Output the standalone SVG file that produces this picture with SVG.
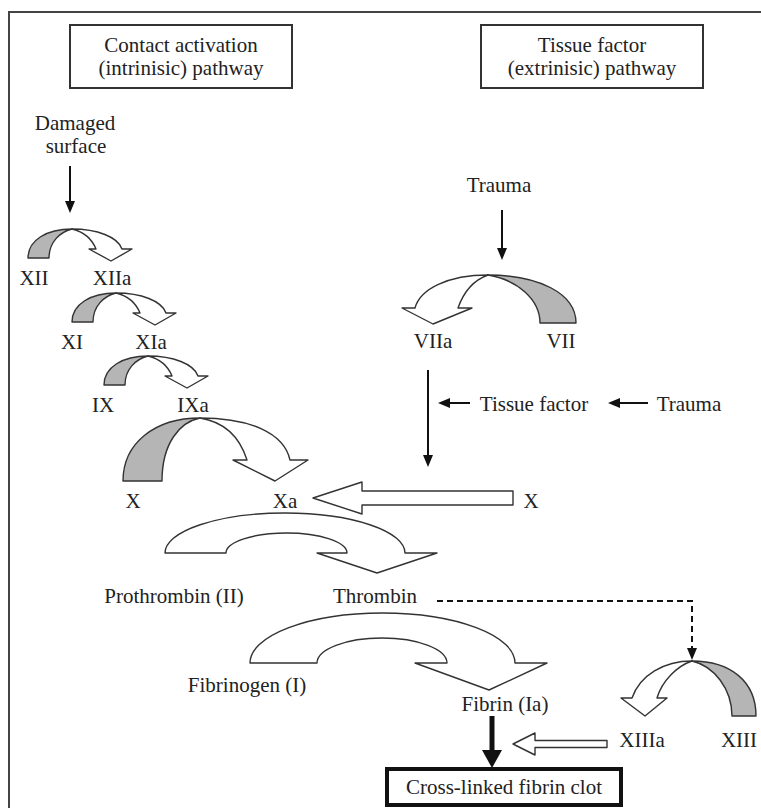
<svg xmlns="http://www.w3.org/2000/svg" width="761" height="808" viewBox="0 0 761 808">
<style>
text{font-family:"Liberation Serif","Times New Roman",serif;font-size:21px;fill:#222;text-anchor:middle}
.box{fill:#fff;stroke:#333;stroke-width:2}
.gray{fill:#b5b5b5;stroke:#333;stroke-width:1.4;stroke-linejoin:round}
.white{fill:#fff;stroke:#333;stroke-width:1.4;stroke-linejoin:round}
.ln{fill:none;stroke:#111;stroke-width:2}
</style>
<defs>
<marker id="ah" viewBox="0 0 12 10" refX="4" refY="5" markerWidth="12" markerHeight="10" markerUnits="userSpaceOnUse" orient="auto">
<path d="M0,0 L12,5 L0,10 z" fill="#111"/>
</marker>
</defs>
<rect width="761" height="808" fill="#fff"/>
<g id="frame"><path d="M9,808 V12 H761" fill="none" stroke="#444" stroke-width="2"/></g>

<g id="intrinsic-box"><rect class="box" x="70" y="25" width="222" height="63"/><text x="181" y="52">Contact activation</text><text x="181" y="75">(intrinisic) pathway</text></g>
<g id="extrinsic-box"><rect class="box" x="481" y="25" width="222" height="63"/><text x="592" y="52">Tissue factor</text><text x="592" y="75">(extrinisic) pathway</text></g>

<g id="damaged-surface"><text x="75" y="130">Damaged</text><text x="76" y="153">surface</text></g>
<g id="trauma-top"><text x="499" y="192">Trauma</text></g>

<g id="conv-XII" transform="translate(72,229)">
<path class="gray" d="M-44,29 C-44,11 -25,0 0,0 C-12,3 -23,13 -23,29 Z"/>
<path class="white" d="M0,0 C25,0 46,8 50,20 L60,20 L39,32 L17,20 L24,20 C20,10 12,3 0,0 Z"/>
</g>
<g id="XII"><text x="34" y="285">XII</text></g>
<g id="XIIa"><text x="112" y="285">XIIa</text></g>

<g id="conv-XI" transform="translate(116,293)">
<path class="gray" d="M-44,29 C-44,11 -25,0 0,0 C-12,3 -23,13 -23,29 Z"/>
<path class="white" d="M0,0 C25,0 46,8 50,20 L60,20 L39,32 L17,20 L24,20 C20,10 12,3 0,0 Z"/>
</g>
<g id="XI"><text x="72" y="349">XI</text></g>
<g id="XIa"><text x="151" y="349">XIa</text></g>

<g id="conv-IX" transform="translate(148,356)">
<path class="gray" d="M-44,29 C-44,11 -25,0 0,0 C-12,3 -23,13 -23,29 Z"/>
<path class="white" d="M0,0 C25,0 46,8 50,20 L60,20 L39,32 L17,20 L24,20 C20,10 12,3 0,0 Z"/>
</g>
<g id="IX"><text x="103" y="412">IX</text></g>
<g id="IXa"><text x="193" y="412">IXa</text></g>

<g id="conv-X" transform="translate(200,418)">
<path class="gray" d="M-77,63 C-77,25 -45,0 0,0 C-20,4 -38,25 -38,63 Z"/>
<path class="white" d="M0,0 C50,0 84,15 90,42 L108,42 L75,63 L33,42 L47,42 C40,20 25,4 0,0 Z"/>
</g>
<g id="X"><text x="133" y="508">X</text></g>
<g id="Xa"><text x="285" y="508">Xa</text></g>
<g id="X-right"><text x="531" y="508">X</text></g>

<g id="conv-VII" transform="translate(488,275)">
<path class="gray" d="M0,0 C50,0 88,18 88,48 L52,48 C52,25 30,5 0,0 Z"/>
<path class="white" d="M0,0 C-40,0 -68,14 -73,33 L-86,33 L-55,49 L-16,33 L-30,33 C-24,16 -14,5 0,0 Z"/>
</g>
<g id="VIIa"><text x="433" y="348">VIIa</text></g>
<g id="VII"><text x="561" y="348">VII</text></g>

<g id="tissue-factor"><text x="534" y="411">Tissue factor</text></g>
<g id="trauma-mid"><text x="689" y="411">Trauma</text></g>

<g id="conv-prothrombin">
<path class="white" d="M165,553 A120,40 0 0 1 405,553 L437,553 L377,573 L317,553 L347,553 A60.5,20 0 0 0 226,553 Z"/>
</g>
<g id="prothrombin"><text x="174" y="603">Prothrombin (II)</text></g>
<g id="thrombin"><text x="375" y="603">Thrombin</text></g>

<g id="conv-fibrinogen">
<path class="white" d="M250,663 A132.5,50 0 0 1 515,663 L547,663 L489,690 L415,663 L447,663 A65,25 0 0 0 317,663 Z"/>
</g>
<g id="fibrinogen"><text x="247" y="692">Fibrinogen (I)</text></g>
<g id="fibrin"><text x="505" y="711">Fibrin (Ia)</text></g>

<g id="conv-XIII" transform="translate(692,661)">
<path class="gray" d="M0,0 C38,0 64,20 64,55 L40,55 C40,28 22,5 0,0 Z"/>
<path class="white" d="M0,0 C-28,0 -52,14 -60,37 L-71,37 L-47,55 L-25,37 L-35,37 C-30,20 -15,5 0,0 Z"/>
</g>
<g id="XIIIa"><text x="642" y="747">XIIIa</text></g>
<g id="XIII"><text x="739" y="747">XIII</text></g>

<g id="clot"><rect x="387" y="769" width="234" height="36" fill="#fff" stroke="#111" stroke-width="4"/><text x="504" y="794">Cross-linked fibrin clot</text></g>

<g id="connectors">
<line class="ln" x1="70" y1="166" x2="70" y2="205" marker-end="url(#ah)"/>
<line class="ln" x1="502" y1="210" x2="502" y2="252" marker-end="url(#ah)"/>
<line class="ln" x1="428" y1="370" x2="428" y2="459" marker-end="url(#ah)"/>
<line class="ln" x1="470" y1="403" x2="446" y2="403" marker-end="url(#ah)"/>
<line class="ln" x1="648" y1="403" x2="616" y2="403" marker-end="url(#ah)"/>
<path class="white" d="M513,491 L362,491 L362,482 L313,498 L362,514 L362,505 L513,505 Z"/>
<path d="M437,601 H692 V652" fill="none" stroke="#111" stroke-width="2" stroke-dasharray="6,4" marker-end="url(#ah)"/>
<line x1="492" y1="716" x2="492" y2="752" stroke="#111" stroke-width="5"/>
<path d="M482,750 L502,750 L492,768 Z" fill="#111"/>
<path class="white" d="M607,740.5 L535,740.5 L535,733 L513,744 L535,755 L535,747.5 L607,747.5 Z"/>
</g>
</svg>
